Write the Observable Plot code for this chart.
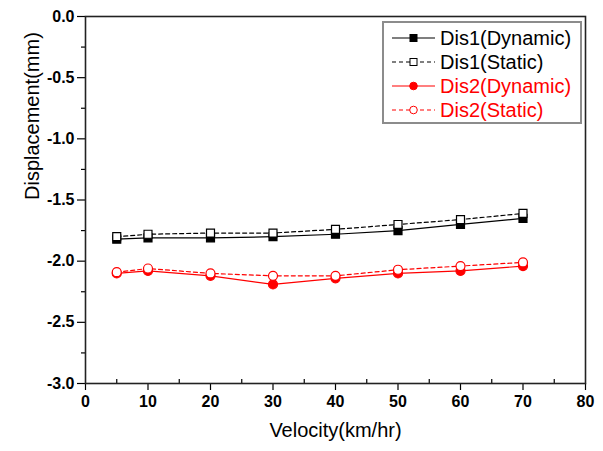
<!DOCTYPE html>
<html>
<head>
<meta charset="utf-8">
<script src="https://cdn.jsdelivr.net/npm/d3@7"></script>
<script src="https://cdn.jsdelivr.net/npm/@observablehq/plot@0.6"></script>
<style>
  html, body { margin: 0; padding: 0; background: #fff; }
  #chart svg { display: block; }
</style>
</head>
<body>
<div id="chart"></div>
<script>
// Vehicle velocity (km/hr) and measured displacements (mm)
const velocity = [5, 10, 20, 30, 40, 50, 60, 70];
const dis1Dynamic = [-1.82, -1.81, -1.81, -1.80, -1.78, -1.75, -1.70, -1.65];
const dis1Static  = [-1.80, -1.78, -1.77, -1.77, -1.74, -1.70, -1.66, -1.61];
const dis2Dynamic = [-2.10, -2.08, -2.12, -2.19, -2.14, -2.10, -2.08, -2.04];
const dis2Static  = [-2.09, -2.06, -2.10, -2.12, -2.12, -2.07, -2.04, -2.01];

const seriesNames = ["Dis1(Dynamic)", "Dis1(Static)", "Dis2(Dynamic)", "Dis2(Static)"];
const seriesValues = [dis1Dynamic, dis1Static, dis2Dynamic, dis2Static];

const xTicks = [0, 10, 20, 30, 40, 50, 60, 70, 80];
const xMinorTicks = [5, 15, 25, 35, 45, 55, 65, 75];
const yTicks = [-3.0, -2.5, -2.0, -1.5, -1.0, -0.5, 0.0];
const yMinorTicks = [-2.75, -2.25, -1.75, -1.25, -0.75, -0.25];

// Drawing style for each series
const styles = {
  "Dis1(Dynamic)": {color: "#000000", dash: null,  symbol: "square", fill: "#000000"},
  "Dis1(Static)":  {color: "#000000", dash: "4,3", symbol: "square", fill: "#ffffff"},
  "Dis2(Dynamic)": {color: "#ff0000", dash: null,  symbol: "circle", fill: "#ff0000"},
  "Dis2(Static)":  {color: "#ff0000", dash: "4,3", symbol: "circle", fill: "#ffffff"}
};

const rows = seriesNames.map((name, i) =>
  velocity.map((v, j) => ({series: name, velocity: v, value: seriesValues[i][j]}))
);

const font = "'Liberation Sans', Arial, sans-serif";

const seriesMarks = rows.flatMap((data) => {
  const s = styles[data[0].series];
  return [
    Plot.line(data, {x: "velocity", y: "value", stroke: s.color, strokeWidth: 1.2,
                     strokeDasharray: s.dash ?? undefined}),
    Plot.dot(data, {x: "velocity", y: "value", r: 4.5, symbol: s.symbol,
                    fill: s.fill, stroke: s.color, strokeWidth: 1.2})
  ];
});

const chart = Plot.plot({
  width: 603,
  height: 451,
  marginLeft: 85,
  marginRight: 18,
  marginTop: 16,
  marginBottom: 68,
  style: {fontFamily: font, background: "#fff", color: "#000"},
  x: {domain: [0, 80]},
  y: {domain: [-3, 0]},
  marks: [
    Plot.axisX({ticks: xTicks, tickSize: 7, tickPadding: 5, tickFormat: (d) => String(d),
                fontSize: 16, fontWeight: "bold", label: null, strokeWidth: 1.2}),
    Plot.axisX({ticks: xMinorTicks, tickSize: -4, tickFormat: () => "", label: null, strokeWidth: 1.2}),
    Plot.axisY({ticks: yTicks, tickSize: 8, tickPadding: 3, tickFormat: (d) => d.toFixed(1),
                fontSize: 16, fontWeight: "bold", label: null, strokeWidth: 1.2}),
    Plot.axisY({ticks: yMinorTicks, tickSize: 4, tickFormat: () => "", label: null, strokeWidth: 1.2}),
    ...seriesMarks,
    Plot.frame({stroke: "#222", strokeWidth: 1.6}),
    Plot.text(["Velocity(km/hr)"], {text: (d) => d, frameAnchor: "bottom", dy: 53,
                                    fontSize: 20, fill: "#000"}),
    Plot.text(["Displacement(mm)"], {text: (d) => d, frameAnchor: "left", dx: -53, rotate: -90,
                                     fontSize: 20, fill: "#000"})
  ]
});

document.getElementById("chart").append(chart);

// Legend box in the upper right corner of the plot area
const svg = d3.select(chart);
const legend = svg.append("g").attr("font-family", font).attr("text-anchor", "start");
legend.append("rect")
  .attr("x", 383).attr("y", 22).attr("width", 198).attr("height", 101)
  .attr("fill", "#fff").attr("stroke", "#8c8c8c").attr("stroke-width", 2);

seriesNames.forEach((name, i) => {
  const s = styles[name];
  const cy = 38 + i * 24;
  const g = legend.append("g");
  g.append("line")
    .attr("x1", 392).attr("x2", 435).attr("y1", cy).attr("y2", cy)
    .attr("stroke", s.color).attr("stroke-width", 1.2)
    .attr("stroke-dasharray", s.dash);
  if (s.symbol === "square") {
    g.append("rect").attr("x", 410).attr("y", cy - 3.5).attr("width", 7).attr("height", 7)
      .attr("fill", s.fill).attr("stroke", s.color).attr("stroke-width", 1);
  } else {
    g.append("circle").attr("cx", 413.5).attr("cy", cy).attr("r", 3.8)
      .attr("fill", s.fill).attr("stroke", s.color).attr("stroke-width", 1);
  }
  g.append("text")
    .attr("x", 440).attr("y", cy).attr("dy", "0.35em")
    .attr("font-size", 20).attr("fill", s.color)
    .text(name);
});
</script>
</body>
</html>
